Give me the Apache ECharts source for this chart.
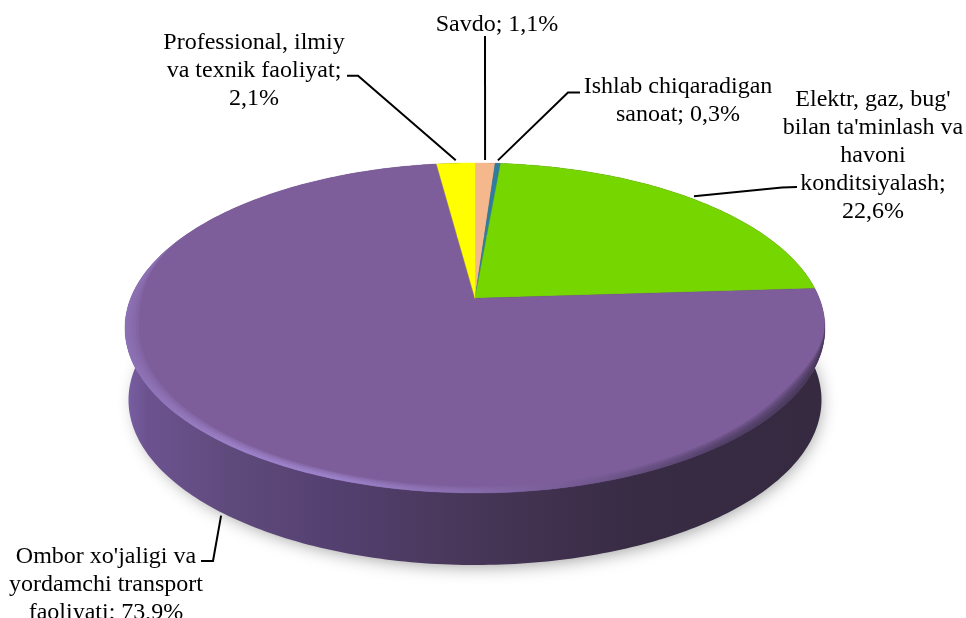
<!DOCTYPE html>
<html>
<head>
<meta charset="utf-8">
<style>html,body{margin:0;padding:0;background:#fff}#c{width:966px;height:618px}</style>
<script src="https://cdn.jsdelivr.net/npm/echarts@6/dist/echarts.min.js"></script>
</head>
<body>
<div id="c"></div>
<script>
// Data, clockwise from 12 o'clock
const categories = ["Savdo", "Ishlab chiqaradigan\nsanoat", "Elektr, gaz, bug'\nbilan ta'minlash va\nhavoni\nkonditsiyalash", "Ombor xo'jaligi va\nyordamchi transport\nfaoliyati", "Professional, ilmiy\nva texnik faoliyat"];
const shares = [1.1, 0.3, 22.6, 73.9, 2.1];
const colors = ["#F5B88C", "#2F7C9E", "#76D600", "#7D5E9B", "#FFFF00"];
// Label separators: name and value share a line or break
const valueBreak = ["; ", "; ", ";\n", "; ", ";\n"];
const labelCentre = [[497, 25], [678, 101], [873, 156], [106, 584.5], [254, 70.5]];
const labelElbow = [[[485, 36]], [[580, 92.5], [568, 92.5]], [[797, 187], [782, 187.5]], [[201, 561], [213, 561]], [[347, 75.7], [358, 75.7]]];
const leaderOnWall = [false, false, false, true, false];

// Perspective disc geometry
const CX = 475, CY = 328, RX = 350, RY = 165, DEPTH = 72, TILT = -0.18;
const total = shares.reduce((a, b) => a + b, 0);
function project(pct, r, dy, k) {
  const t = pct / total * 2 * Math.PI;
  const u = Math.sin(t), v = -Math.cos(t);
  const d = 1 + TILT * v, q = Math.sqrt(1 - TILT * TILT);
  return [CX + (k || 1) * r * RX * u * q / d, CY + (dy || 0) + r * RY * (v + TILT) / d];
}
function rimPoint(pct, r, dy, k) {
  // scale about the ellipse centre so the inset follows the rim
  const p = project(pct, 1, dy, k), cy = CY + (dy || 0);
  return [CX + (p[0] - CX) * r, cy + (p[1] - cy) * r];
}
function arc(a, b, r, dy, k) {
  const n = Math.max(2, Math.ceil((b - a) * 4)), pts = [];
  for (let i = 0; i <= n; i++) {
    const p = a + (b - a) * i / n;
    pts.push(rimPoint(p, typeof r === 'function' ? r(p) : r, dy, k));
  }
  return pts;
}
const apex = [CX, CY + RY * TILT];
const lin = (stops) => new echarts.graphic.LinearGradient(CX - RX, 0, CX + RX, 0, stops.map(s => ({offset: s[0], color: s[1]})), true);
const wallFill = () => lin([[0, '#7A60A4'], [0.03, '#6C5390'], [0.15, '#5F4A7C'], [0.3, '#544070'], [0.5, '#473657'], [0.72, '#382C45'], [1, '#352A40']]);
const rimFill = () => lin([[0, '#8E74B8'], [0.15, '#A48AD4'], [0.3, '#A68DDA'], [0.5, '#8A70B0'], [0.68, '#6C5488'], [0.85, '#46375A'], [1, '#3A2E48']]);

let cum = 0;
const rows = shares.map((v, i) => { const r = [cum, cum + v, i]; cum += v; return r; });

function renderShadow(params, api) {
  if (api.value(2) !== 3) return {type: 'group', children: []};
  return {type: 'polygon', silent: true, shape: {points: arc(0, total, 0.985, DEPTH, 0.99)},
    style: {fill: '#352A40', shadowBlur: 18, shadowColor: 'rgba(0,0,0,0.42)', shadowOffsetX: 3, shadowOffsetY: 3}};
}
function renderWall(params, api) {
  const a = api.value(0), b = api.value(1);
  const top = arc(a, b, 1, 0), bot = arc(a, b, 1, DEPTH, 0.99).reverse();
  return {type: 'polygon', silent: true, shape: {points: top.concat(bot)}, style: {fill: wallFill()}};
}
function renderTop(params, api) {
  const a = api.value(0), b = api.value(1), i = api.value(2);
  const children = [{type: 'polygon', silent: true, shape: {points: [apex].concat(arc(a, b, 1, 0))},
    style: {fill: colors[i], stroke: colors[i], lineWidth: 0.4}}];
  if (i === 3) {
    // soft bevel along the front rim, tapered at both ends
    const lo = a + 3, hi = b - 16;
    const taper = p => {
      const e = Math.min((p - lo) / 8, (hi - p) / 10, 1);
      return e * e * (3 - 2 * e);
    };
    [0.04, 0.032, 0.025, 0.018, 0.011, 0.005].forEach(w => {
      children.push({type: 'polygon', silent: true,
        shape: {points: arc(lo, hi, 1, 0).concat(arc(lo, hi, p => 1 - w * taper(p), 0).reverse())},
        style: {fill: rimFill(), opacity: 0.24}});
    });
  }
  return {type: 'group', children};
}
function renderLabel(params, api) {
  const a = api.value(0), b = api.value(1), i = api.value(2);
  const mid = (a + b) / 2;
  const end = leaderOnWall[i] ? project(mid, 1, DEPTH + 2, 1.0) : project(mid, 1.0, -3);
  const c = labelCentre[i];
  const text = categories[i] + valueBreak[i] + String(shares[i]).replace('.', ',') + '%';
  return {type: 'group', children: [
    {type: 'polyline', silent: true, shape: {points: labelElbow[i].concat([end])},
      style: {fill: null, stroke: '#000', lineWidth: 2}},
    {type: 'text', silent: true, x: c[0], y: c[1],
      style: {text, fill: '#000', font: '24px "Liberation Serif", serif', align: 'center', verticalAlign: 'middle', lineHeight: 28}}
  ]};
}
const mk = (fn, z) => ({type: 'custom', coordinateSystem: 'none', renderItem: fn, data: rows, z, silent: true, animation: false, clip: false});
const chart = echarts.init(document.getElementById('c'), null, {renderer: 'canvas'});
chart.setOption({
  animation: false,
  backgroundColor: '#fff',
  series: [mk(renderShadow, 1), mk(renderWall, 2), mk(renderTop, 3), mk(renderLabel, 4)]
});
</script>
</body>
</html>
